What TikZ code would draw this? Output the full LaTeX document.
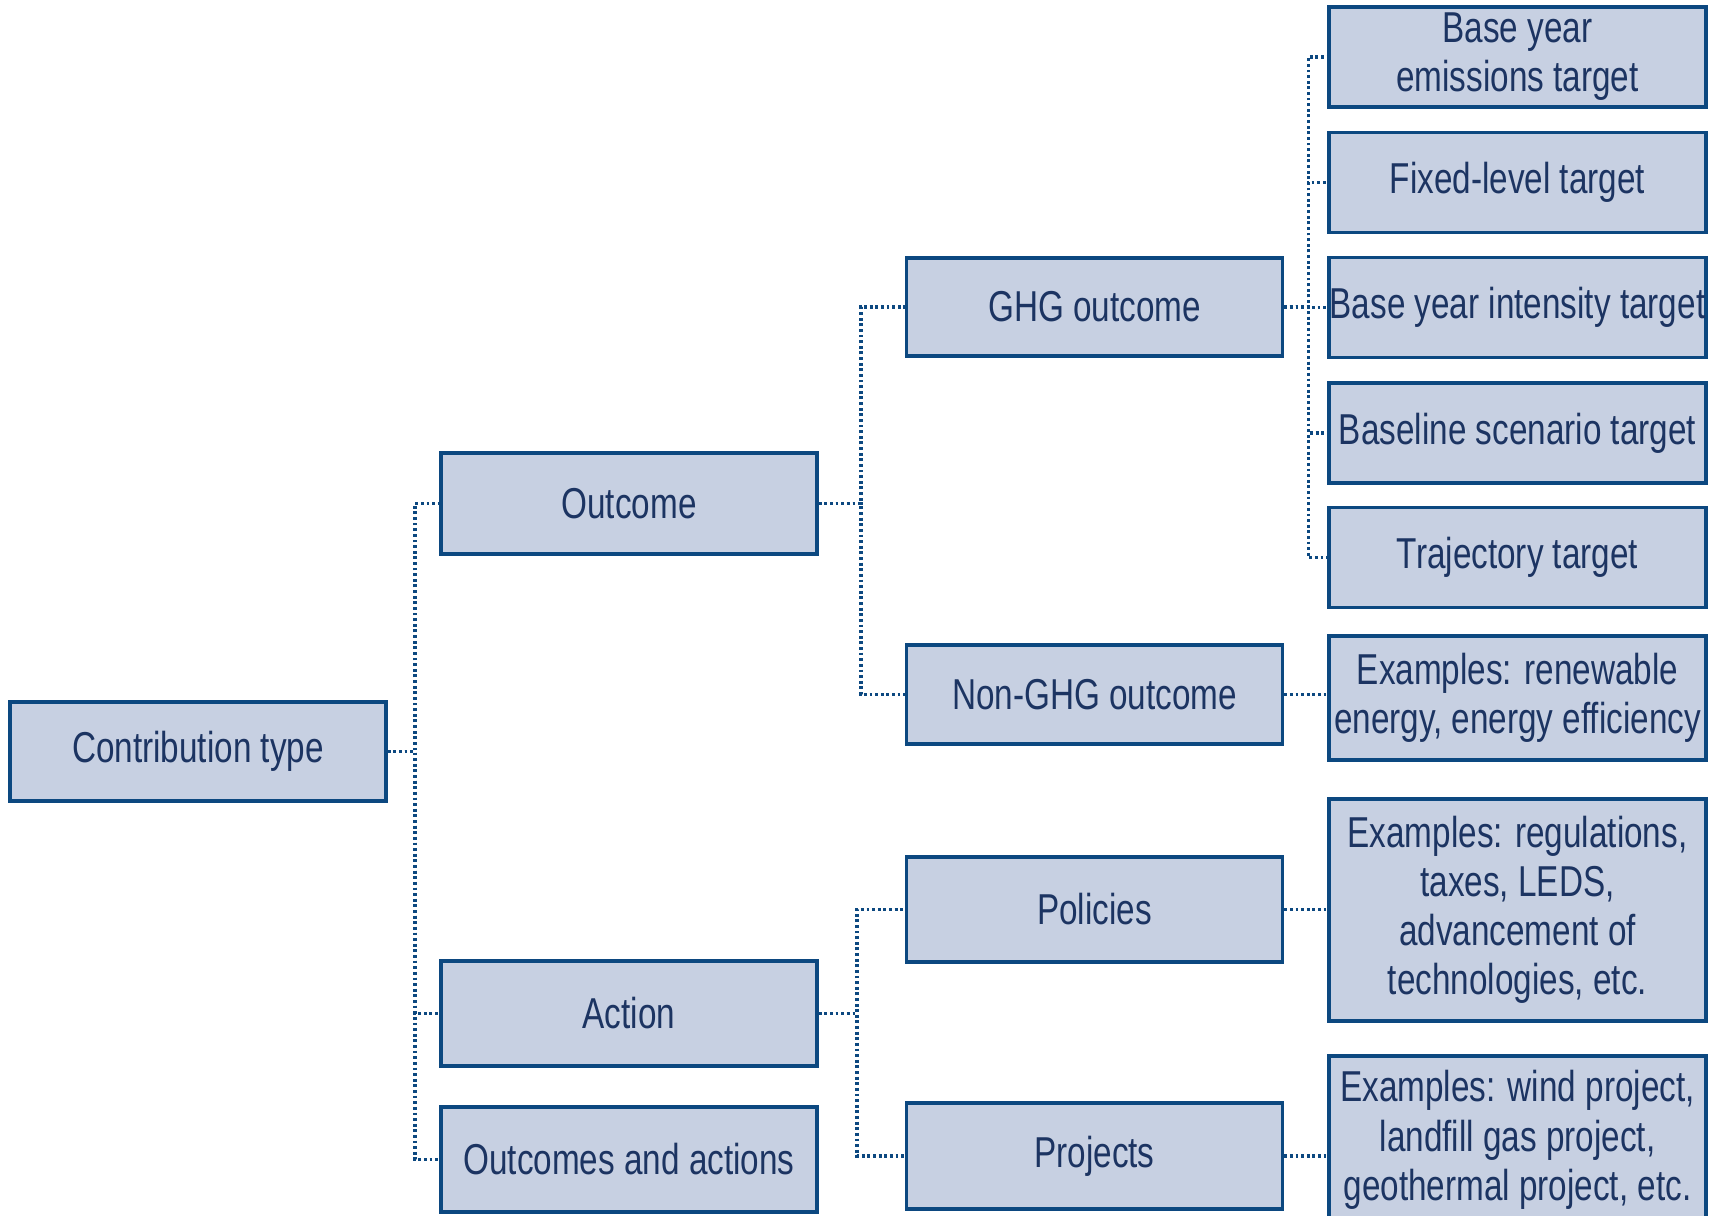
\documentclass[tikz,border=0pt]{standalone}
\usepackage{fontspec}
\setmainfont[FakeStretch=0.77]{Liberation Sans}
\definecolor{boxfill}{RGB}{199,208,226}
\definecolor{boxline}{RGB}{12,72,128}
\definecolor{boxtext}{RGB}{28,52,98}
\tikzset{
    kind/.style={draw=boxline, fill=boxfill, line width=1pt, text=boxtext,
        font=\fontsize{12.3}{14}\selectfont, align=center, inner sep=0pt,
        minimum width=3.76cm},
    link/.style={draw=boxline, line width=1pt, dash pattern=on 0.8pt off 0.8pt}
}
\begin{document}
\begin{tikzpicture}[x=1.0cm, y=1.0cm]
        \useasboundingbox (0,0) rectangle (17.14,-12.16);

        % first and second level
        \node[kind, minimum height=0.99cm] (contrib) at (1.98,-7.515) {Contribution type};
        \node[kind, minimum height=1.01cm] (outcome) at (6.29,-5.035) {Outcome};
        \node[kind, minimum height=1.05cm] (action) at (6.29,-10.135) {Action};
        \node[kind, minimum height=1.05cm] (both) at (6.29,-11.595) {Outcomes and actions};

        % third level
        \node[kind, minimum height=0.98cm] (ghg) at (10.945,-3.07) {GHG outcome};
        \node[kind, minimum height=0.99cm] (nonghg) at (10.945,-6.945) {Non-GHG outcome};
        \node[kind, minimum height=1.05cm] (policies) at (10.945,-9.095) {Policies};
        \node[kind, minimum height=1.06cm] (projects) at (10.945,-11.56) {Projects};

        % targets
        \foreach \nm/\yy/\txt in {t1/-0.57/{Base year\\emissions target},
                                  t2/-1.825/{Fixed-level target},
                                  t3/-3.075/{Base year intensity target},
                                  t4/-4.33/{Baseline scenario target},
                                  t5/-5.575/{Trajectory target}} {
            \node[kind, minimum width=3.77cm, minimum height=1.0cm] (\nm) at (15.175,\yy) {\txt};
        }

        % examples
        \node[kind, minimum width=3.77cm, minimum height=1.24cm] (ex1) at (15.175,-6.98)
            {Examples: renewable\\energy, energy efficiency};
        \node[kind, minimum width=3.77cm, minimum height=2.22cm] (ex2) at (15.175,-9.10)
            {Examples: regulations,\\taxes, LEDS,\\advancement of\\technologies, etc.};
        \node[kind, minimum width=3.77cm, minimum height=1.68cm] (ex3) at (15.175,-11.40)
            {Examples: wind project,\\landfill gas project,\\geothermal project, etc.};

        % connectors
        \foreach \nm in {outcome,action,both} {
            \draw[link] (contrib.east) -- ++(0.27,0) |- (\nm.west);
        }
        \foreach \nm in {ghg,nonghg} {
            \draw[link] (outcome.east) -- ++(0.42,0) |- (\nm.west);
        }
        \foreach \nm in {policies,projects} {
            \draw[link] (action.east) -- ++(0.38,0) |- (\nm.west);
        }
        \foreach \nm in {t1,t2,t3,t4,t5} {
            \draw[link] (ghg.east) -- ++(0.24,0) |- (\nm.west);
        }
        \draw[link] (nonghg.east) -- (nonghg.east -| ex1.west);
        \draw[link] (policies.east) -- (policies.east -| ex2.west);
        \draw[link] (projects.east) -- (projects.east -| ex3.west);
    \end{tikzpicture}
\end{document}
